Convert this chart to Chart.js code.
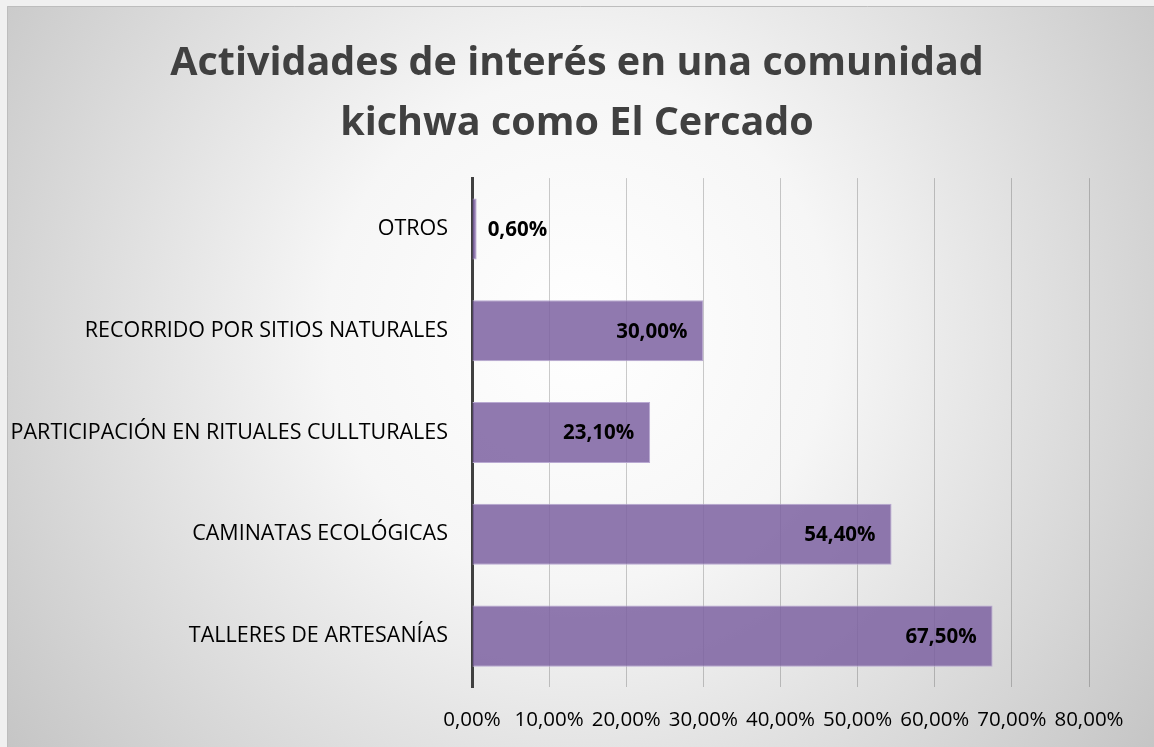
<!DOCTYPE html>
<html>
<head>
<meta charset="utf-8">
<script src="https://cdn.jsdelivr.net/npm/chart.js@4/dist/chart.umd.min.js"></script>
<style>
    html, body { margin: 0; padding: 0; background: #f2f2f2; }
    #wrap { width: 1154px; height: 747px; }
</style>
</head>
<body>
<div id="wrap"><canvas id="grafico"></canvas></div>
<script>
// Datos
const categorias = [
    'OTROS',
    'RECORRIDO POR SITIOS NATURALES',
    'PARTICIPACIÓN EN RITUALES CULLTURALES',
    'CAMINATAS ECOLÓGICAS',
    'TALLERES DE ARTESANÍAS'
];
const porcentajes = [0.6, 30.0, 23.1, 54.4, 67.5];
const titulo = ['Actividades de interés en una comunidad', 'kichwa como El Cercado'];
const ejeMin = 0;
const ejeMax = 80;
const ejePaso = 10;

const FUENTE = '"Open Sans", "Liberation Sans", sans-serif';

function formatoPct(v) {
    return v.toFixed(2).replace('.', ',') + '%';
}

// Fondo con degradado radial
const fondo = {
    id: 'fondo',
    beforeDraw(chart) {
        const ctx = chart.ctx;
        const w = chart.width, h = chart.height;
        ctx.save();
        ctx.fillStyle = '#f0f0f0';
        ctx.fillRect(0, 0, w, h);
        const g = ctx.createRadialGradient(580, 330, 0, 580, 330, 720);
        g.addColorStop(0, '#ffffff');
        g.addColorStop(0.35, '#f6f6f6');
        g.addColorStop(1, '#c4c4c4');
        ctx.fillStyle = g;
        ctx.fillRect(7, 6, w - 7, h - 6);
        ctx.strokeStyle = '#bdbdbd';
        ctx.lineWidth = 1;
        ctx.beginPath();
        ctx.moveTo(7.5, h);
        ctx.lineTo(7.5, 6.5);
        ctx.lineTo(w, 6.5);
        ctx.stroke();
        ctx.restore();
    }
};

// Etiquetas de valores
const etiquetas = {
    id: 'etiquetas',
    afterDatasetsDraw(chart) {
        const ctx = chart.ctx;
        const meta = chart.getDatasetMeta(0);
        ctx.save();
        ctx.font = 'bold 20.5px ' + FUENTE;
        ctx.fillStyle = '#000000';
        ctx.textBaseline = 'middle';
        meta.data.forEach((barra, i) => {
            const texto = formatoPct(porcentajes[i]);
            const ancho = ctx.measureText(texto).width;
            const largo = barra.x - barra.base;
            if (largo > ancho + 24) {
                ctx.textAlign = 'right';
                ctx.fillText(texto, barra.x - 16, barra.y + 1);
            } else {
                ctx.textAlign = 'left';
                ctx.fillText(texto, barra.x + 11, barra.y + 1);
            }
        });
        ctx.restore();
    }
};

const ctx = document.getElementById('grafico').getContext('2d');
new Chart(ctx, {
    type: 'bar',
    data: {
        labels: categorias,
        datasets: [{
            data: porcentajes,
            backgroundColor: 'rgba(124, 97, 161, 0.85)',
            borderColor: '#b9a9d2',
            borderWidth: 1,
            barPercentage: 0.6,
            categoryPercentage: 1.0
        }]
    },
    options: {
        indexAxis: 'y',
        responsive: true,
        maintainAspectRatio: false,
        animation: false,
        layout: {
            padding: { left: 0, right: 0, top: 0, bottom: 0 }
        },
        plugins: {
            legend: { display: false },
            tooltip: { enabled: false },
            title: {
                display: true,
                text: titulo,
                color: '#404040',
                font: { family: FUENTE, size: 39.5, weight: 'bold', lineHeight: 1.52 },
                padding: { top: 34, bottom: 24 }
            }
        },
        scales: {
            x: {
                min: ejeMin,
                max: ejeMax,
                ticks: {
                    stepSize: ejePaso,
                    color: '#000000',
                    font: { family: FUENTE, size: 20.5 },
                    padding: 21,
                    callback: v => formatoPct(v)
                },
                grid: {
                    color: 'rgba(0, 0, 0, 0.2)',
                    lineWidth: 1,
                    drawTicks: false
                },
                border: { display: false },
                afterFit(scale) { scale.height = 60; }
            },
            y: {
                ticks: {
                    color: '#000000',
                    font: { family: FUENTE, size: 21.5 },
                    padding: 24
                },
                grid: { display: false, drawTicks: false },
                border: { display: true, color: '#404040', width: 3 },
                afterFit(scale) { scale.width = 472; }
            },
            // eje vacio a la derecha, solo reserva el margen
            margen: {
                type: 'category',
                position: 'right',
                labels: categorias,
                ticks: { display: false },
                grid: { display: false, drawTicks: false },
                border: { display: false },
                afterFit(scale) { scale.width = 65; }
            }
        }
    },
    plugins: [fondo, etiquetas]
});
</script>
</body>
</html>
